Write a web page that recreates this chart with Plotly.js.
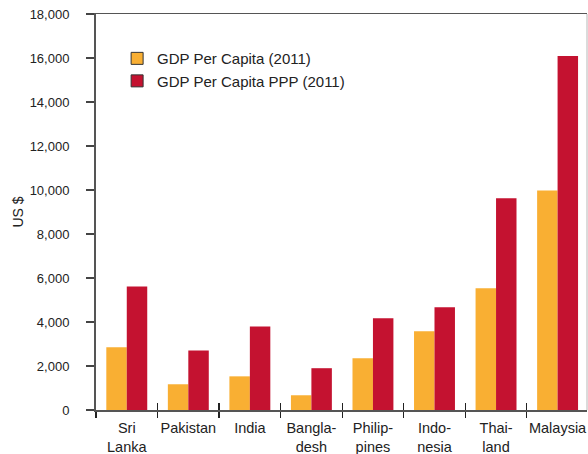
<!DOCTYPE html>
<html>
<head>
<meta charset="utf-8">
<script src="https://cdn.plot.ly/plotly-3.0.1.min.js"></script>
<style>html,body{margin:0;padding:0;background:#fff;}#chart{width:588px;height:454px;}</style>
</head>
<body>
<div id="chart"></div>
<script>
const countries = ["Sri<br>Lanka", "Pakistan", "India", "Bangla-<br>desh", "Philip-<br>pines", "Indo-<br>nesia", "Thai-<br>land", "Malaysia"];
const gdpPerCapita = [2850, 1170, 1530, 670, 2350, 3580, 5530, 9980];
const gdpPerCapitaPPP = [5610, 2710, 3800, 1900, 4170, 4670, 9620, 16090];
const seriesNames = ["GDP Per Capita (2011)", "GDP Per Capita PPP (2011)"];
const seriesColors = ["#F9AF33", "#C41230"];
const yTickVals = [0, 2000, 4000, 6000, 8000, 10000, 12000, 14000, 16000, 18000];

const font = "Liberation Sans, Arial, sans-serif";
const xRange = [-0.5, 7.478];

const traces = [
  {type: "bar", x: countries, y: gdpPerCapita, name: seriesNames[0], marker: {color: seriesColors[0]}, showlegend: false, hoverinfo: "y"},
  {type: "bar", x: countries, y: gdpPerCapitaPPP, name: seriesNames[1], marker: {color: seriesColors[1]}, showlegend: false, hoverinfo: "y"},
  {type: "bar", x: [countries[0]], y: [null], xaxis: "x2", name: seriesNames[0], legendgroup: "a",
   marker: {color: seriesColors[0], line: {color: "#333", width: 1}}, hoverinfo: "skip"},
  {type: "bar", x: [countries[0]], y: [null], xaxis: "x2", name: seriesNames[1], legendgroup: "b",
   marker: {color: seriesColors[1], line: {color: "#333", width: 1}}, hoverinfo: "skip"}
];

const layout = {
  width: 588, height: 454,
  margin: {l: 96, r: 1, t: 14, b: 44, pad: 0},
  paper_bgcolor: "#fff", plot_bgcolor: "#fff",
  font: {family: font, color: "#222", size: 14},
  barmode: "group", bargap: 0.335, bargroupgap: 0,
  showlegend: true,
  legend: {x: 0.043, y: 0.929, xanchor: "left", yanchor: "top", bgcolor: "rgba(0,0,0,0)",
           font: {family: font, size: 15, color: "#222"}, tracegroupgap: 4, traceorder: "normal"},
  xaxis: {
    type: "category", categoryorder: "array", categoryarray: countries, range: xRange,
    tickson: "boundaries", ticks: "outside", ticklen: 6, tickwidth: 1.3, tickcolor: "#222",
    tickangle: 0, automargin: false, ticklabelstandoff: 4,
    showline: true, linecolor: "#555", linewidth: 1.5, mirror: true,
    showgrid: false, zeroline: false,
    tickfont: {family: font, size: 14.5, color: "#222"}
  },
  xaxis2: {
    type: "category", categoryorder: "array", categoryarray: countries, range: xRange,
    overlaying: "x", anchor: "y", side: "bottom",
    tickson: "boundaries", ticks: "inside", ticklen: 7, tickwidth: 1.3, tickcolor: "#222",
    showticklabels: false, showline: false, showgrid: false, zeroline: false, automargin: false
  },
  yaxis: {
    range: [0, 18000], tickmode: "array", tickvals: yTickVals, tickformat: ",",
    ticks: "outside", ticklen: 8, tickwidth: 1.3, tickcolor: "#444",
    showline: true, linecolor: "#555", linewidth: 2,
    showgrid: false, zeroline: false, automargin: false,
    ticklabelstandoff: 14,
    tickfont: {family: font, size: 13, color: "#222"},
    title: {text: "US $", font: {family: font, size: 14, color: "#222"}, standoff: 3}
  },
  shapes: [
    {type: "line", xref: "paper", yref: "paper", x0: 1, x1: 1, y0: 0, y1: 1, line: {color: "#cfcfcf", width: 1.5}}
  ]
};

Plotly.newPlot("chart", traces, layout, {displayModeBar: false, staticPlot: true});
</script>
</body>
</html>
